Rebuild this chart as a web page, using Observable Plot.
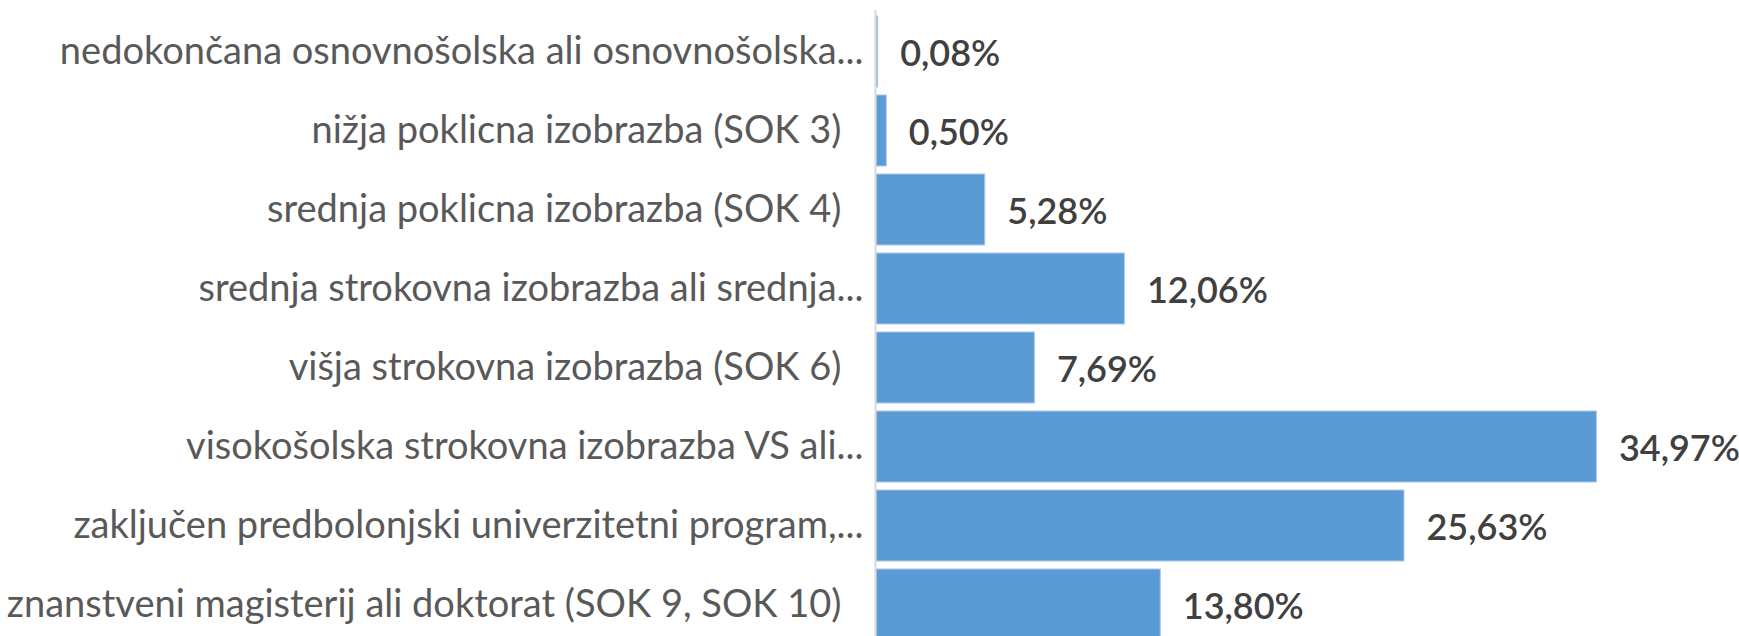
<!DOCTYPE html>
<html><head><meta charset="utf-8">
<script src="https://cdn.jsdelivr.net/npm/d3@7"></script>
<script src="https://cdn.jsdelivr.net/npm/@observablehq/plot@0.6"></script>
<style>html,body{margin:0;padding:0;background:#fff;overflow:hidden}</style>
</head><body><div id="chart"></div>
<script>
const categories = [
  "nedokončana osnovnošolska ali osnovnošolska...",
  "nižja poklicna izobrazba (SOK 3) ",
  "srednja poklicna izobrazba (SOK 4) ",
  "srednja strokovna izobrazba ali srednja...",
  "višja strokovna izobrazba (SOK 6) ",
  "visokošolska strokovna izobrazba VS ali...",
  "zaključen predbolonjski univerzitetni program,...",
  "znanstveni magisterij ali doktorat (SOK 9, SOK 10) "
];
const values = [0.08, 0.50, 5.28, 12.06, 7.69, 34.97, 25.63, 13.80];
const data = categories.map((c, i) => ({category: c, value: values[i]}));
const fmt = v => v.toFixed(2).replace(".", ",") + "%";
const chart = Plot.plot({
  width: 1739, height: 636,
  marginLeft: 876, marginRight: 39, marginTop: 10, marginBottom: 0,
  style: {fontFamily: "Lato", background: "#fff", overflow: "hidden"},
  x: {domain: [0, 40], axis: null},
  y: {domain: categories, range: [10, 646], paddingInner: 0.1, paddingOuter: 0.05, axis: null},
  marks: [
    Plot.axisY({tickSize: 0, tickPadding: 13, fontSize: 38, color: "#595959", label: null,
      tickFormat: d => d.replace(/ +$/, s => "\u2007".repeat(s.length))}),
    Plot.barX(data, {x: "value", y: "category", fill: "#5b9bd5", stroke: "#a9c8ea", strokeWidth: 1}),
    Plot.ruleX([0], {stroke: "#d9d9d9", strokeWidth: 2, dx: -1}),
    Plot.text(data, {x: "value", y: "category", text: d => fmt(d.value), textAnchor: "start",
      dx: 22, dy: 2, fontSize: 36, fontWeight: 600, fill: "#404040"})
  ]
});
document.getElementById("chart").appendChild(chart);
</script>
</body></html>
